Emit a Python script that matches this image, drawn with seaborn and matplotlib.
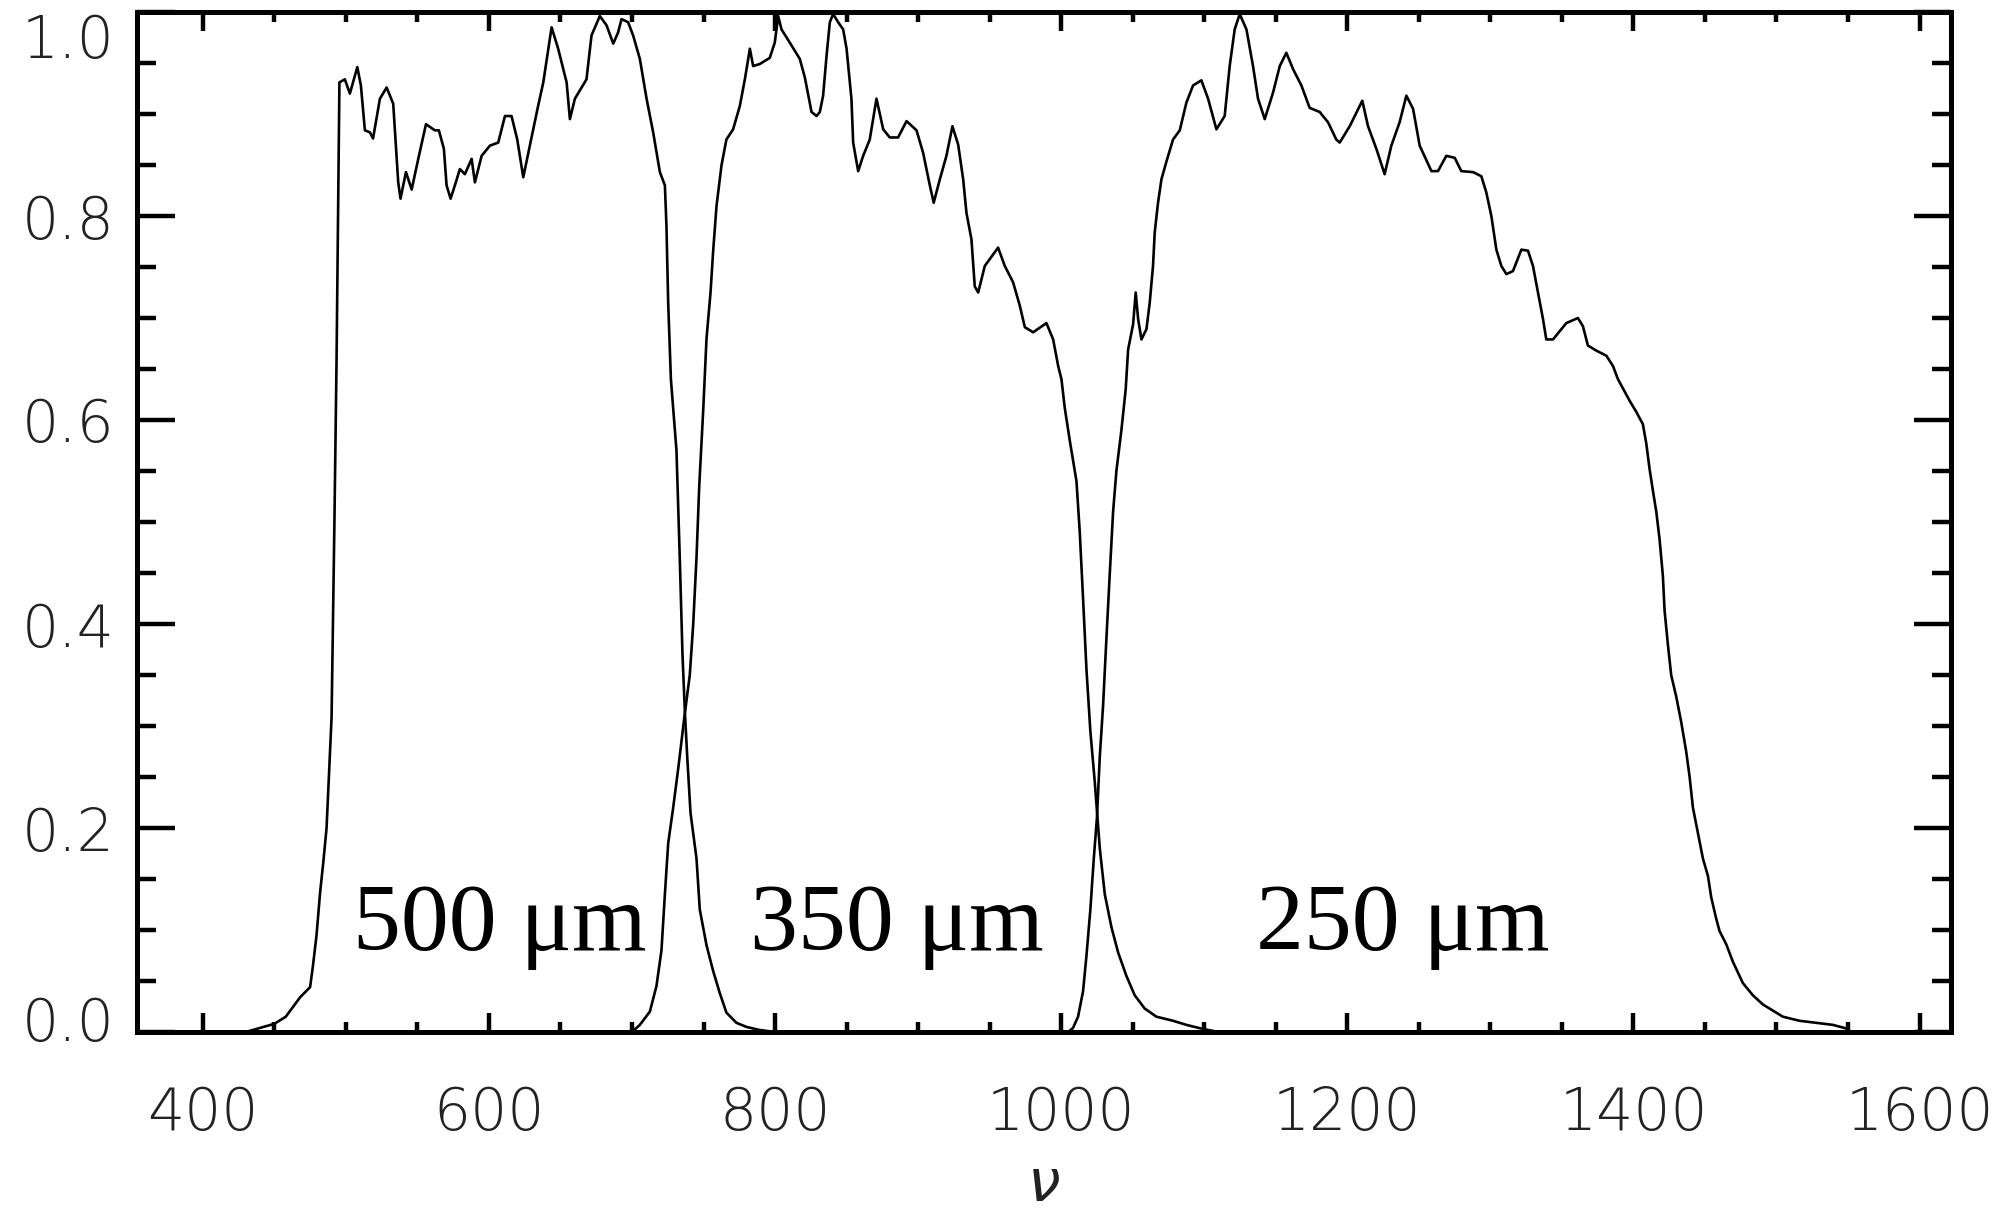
import numpy as np
import pandas as pd
import matplotlib
matplotlib.use("Agg")
import matplotlib.pyplot as plt
import matplotlib.transforms as mtransforms
import seaborn as sns
from matplotlib.ticker import MultipleLocator, FormatStrFormatter

# SPIRE filter transmission
nu_500 = [430, 440, 450, 458, 468, 475, 477, 479.5, 482, 484.2, 486.5, 490, 492, 493.5, 495.5,
          499.3, 502.8, 508, 510.5, 513.3, 516.8, 519, 523.8, 528.5, 533.1, 536.6, 538.2,
          542, 546, 550.6, 556, 562.2, 565, 568.5, 570.4, 573.2, 576.2, 579.7, 583.2,
          587.9, 590.2, 594.9, 600.7, 606.5, 611.2, 615.8, 619.8, 624, 628.6, 634.4, 638,
          643.8, 648.4, 654.3, 656.6, 660.1, 668.2, 671.7, 677.5, 682.2, 686.9, 690.3,
          692.7, 697.3, 700.8, 705.5, 710.2, 714.8, 719.5, 723, 724.1, 725.3, 727.2, 731.1,
          733.5, 735.3, 737, 738.6, 740.9, 745.1, 747.4, 752.1, 756.7, 761.4, 766, 773,
          780, 789, 800]
t_500 = [0.0, 0.004, 0.008, 0.015, 0.034, 0.044, 0.065, 0.095, 0.137, 0.166, 0.200, 0.308, 0.50,
         0.66, 0.931, 0.934, 0.920, 0.946, 0.928, 0.884, 0.882, 0.876, 0.915, 0.926, 0.910,
         0.833, 0.817, 0.843, 0.826, 0.856, 0.890, 0.884, 0.884, 0.866, 0.830, 0.817,
         0.830, 0.846, 0.841, 0.856, 0.833, 0.859, 0.869, 0.872, 0.898, 0.898, 0.875,
         0.838, 0.869, 0.908, 0.931, 0.985, 0.964, 0.931, 0.895, 0.915, 0.934, 0.977,
         0.996, 0.987, 0.969, 0.980, 0.993, 0.990, 0.977, 0.954, 0.915, 0.882, 0.843,
         0.830, 0.790, 0.715, 0.640, 0.570, 0.460, 0.370, 0.313, 0.270, 0.215, 0.170,
         0.120, 0.085, 0.060, 0.038, 0.019, 0.009, 0.005, 0.002, 0.0]

nu_350 = [700, 705.5, 712.5, 717.1, 720.6, 723, 725.3, 728.8, 732.3, 734.6, 737, 740.4, 742.8,
          745.1, 747, 749.8, 752.1, 754.9, 756.7, 759.1, 762.6, 766, 770.7, 775.4, 778.9,
          782.4, 784.7, 789.3, 796.3, 799.8, 802.2, 804.5, 810.3, 817.3, 820.8, 825.5, 829,
          831.3, 833.6, 836, 838.3, 840.6, 844.1, 847.6, 850, 853.4, 854.6, 858.1, 861.6,
          866.2, 870.9, 875.6, 880.2, 886, 891.9, 898.9, 903.5, 908.2, 910.9, 915.2, 919.8,
          924, 928, 931.5, 933.8, 937.3, 939.6, 942, 946.6, 955.9, 960.6, 966.4, 971.1,
          974.6, 980.4, 989.7, 994.4, 997.9, 1000.2, 1002.5, 1006, 1010.7, 1013, 1015.3,
          1017.7, 1020.4, 1023.5, 1027, 1030.5, 1035.1, 1039.8, 1045.6, 1051.4, 1058.4,
          1066.6, 1078.2, 1087.5, 1099, 1110]
t_350 = [0.0, 0.007, 0.02, 0.045, 0.08, 0.135, 0.185, 0.22, 0.258, 0.285, 0.313, 0.35, 0.40,
         0.465, 0.535, 0.61, 0.68, 0.725, 0.765, 0.81, 0.85, 0.875, 0.885, 0.908, 0.934,
         0.964, 0.947, 0.949, 0.955, 0.970, 0.996, 0.983, 0.970, 0.954, 0.936, 0.902, 0.898,
         0.902, 0.918, 0.957, 0.990, 0.998, 0.990, 0.983, 0.964, 0.915, 0.872, 0.844, 0.859,
         0.875, 0.915, 0.885, 0.877, 0.877, 0.893, 0.884, 0.862, 0.830, 0.813, 0.836, 0.859,
         0.888, 0.870, 0.836, 0.803, 0.777, 0.731, 0.725, 0.751, 0.769, 0.751, 0.735, 0.712,
         0.691, 0.686, 0.695, 0.679, 0.653, 0.640, 0.612, 0.58, 0.54, 0.49, 0.425,
         0.355, 0.295, 0.245, 0.18, 0.135, 0.103, 0.078, 0.055, 0.036, 0.023,
         0.015, 0.011, 0.007, 0.003, 0.0]

nu_250 = [1005, 1008.3, 1011.8, 1015.3, 1017.7, 1020.4, 1022.8, 1025, 1027, 1029.3, 1031.6, 1034,
          1036.3, 1038.6, 1042.1, 1045.1, 1046.8, 1050.3, 1052.1, 1053.8, 1056.1, 1059.6,
          1061.9, 1064.2, 1065.4, 1067.7, 1070.1, 1073.5, 1078.2, 1082.9, 1087.5, 1092.2,
          1098, 1102.7, 1108.5, 1114.3, 1117.8, 1121.3, 1124.8, 1129.5, 1134.1, 1137.6,
          1142.3, 1148.1, 1152.8, 1157.4, 1162.1, 1167.9, 1173.7, 1180.7, 1186.5, 1192.3,
          1194.7, 1201.7, 1210.5, 1214.5, 1220.3, 1226.1, 1230.8, 1236.6, 1241.3, 1246,
          1250.6, 1258.8, 1263.4, 1269.2, 1275.1, 1279.7, 1287.9, 1293.7, 1297.2, 1300.7,
          1304.2, 1307.7, 1311.2, 1315.8, 1321.7, 1326.3, 1329.8, 1333.3, 1336.8, 1339.1,
          1343.8, 1353.1, 1361.2, 1364.7, 1368.2, 1374.1, 1381.1, 1385.7, 1389.2, 1397.3,
          1402, 1406.6, 1409, 1411.3, 1413.6, 1416, 1418.3, 1420.6, 1421.8, 1424.1, 1426.4,
          1429.9, 1433.4, 1436.9, 1439.3, 1441.6, 1445.1, 1448.6, 1452.1, 1454.4, 1457.9,
          1460.2, 1464.9, 1469.5, 1476.5, 1483.5, 1490.5, 1497.5, 1504.5, 1516.1, 1527.8,
          1539.4, 1550]
t_250 = [0.0, 0.004, 0.015, 0.04, 0.075, 0.12, 0.17, 0.21, 0.27, 0.32, 0.385, 0.45, 0.51, 0.55,
         0.59, 0.63, 0.669, 0.694, 0.725, 0.699, 0.679, 0.689, 0.715, 0.751, 0.784, 0.813,
         0.836, 0.853, 0.875, 0.884, 0.911, 0.928, 0.933, 0.915, 0.885, 0.898, 0.947, 0.983,
         0.998, 0.983, 0.947, 0.915, 0.895, 0.921, 0.947, 0.960, 0.944, 0.928, 0.906, 0.902,
         0.892, 0.875, 0.872, 0.888, 0.913, 0.888, 0.866, 0.841, 0.869, 0.892, 0.918, 0.905,
         0.869, 0.844, 0.844, 0.859, 0.857, 0.844, 0.843, 0.839, 0.823, 0.800, 0.767, 0.751,
         0.743, 0.746, 0.767, 0.766, 0.751, 0.725, 0.699, 0.679, 0.679, 0.695, 0.700, 0.692,
         0.673, 0.668, 0.663, 0.653, 0.640, 0.619, 0.608, 0.596, 0.577, 0.552, 0.531, 0.510,
         0.483, 0.447, 0.413, 0.380, 0.350, 0.329, 0.304, 0.275, 0.250, 0.220, 0.195, 0.170,
         0.153, 0.132, 0.111, 0.099, 0.086, 0.069, 0.048, 0.036, 0.027, 0.021, 0.015, 0.011,
         0.009, 0.007, 0.003]

band_labels = ["500 \u03bcm", "350 \u03bcm", "250 \u03bcm"]
label_x = [505, 782.5, 1136.5]
label_y = 0.080

sns.set_theme(style="ticks")
plt.rcParams["font.family"] = ["DejaVu Sans"]

fig = plt.figure(figsize=(20.06, 12.17), dpi=100)
ax = fig.add_axes([137 / 2006, 1 - 1032 / 1217, (1951 - 137) / 2006, (1032 - 12) / 1217])

for nu, t in [(nu_500, t_500), (nu_350, t_350), (nu_250, t_250)]:
    sns.lineplot(x=nu, y=t, ax=ax, color="black", linewidth=1.9,
                 estimator=None, sort=False)

for txt, x in zip(band_labels, label_x):
    ax.text(x, label_y, txt, fontsize=69, family="Liberation Serif",
            ha="left", va="baseline", color="black")

ax.set_xlim(354, 1622)
ax.set_ylim(0, 1.0)
ax.xaxis.set_major_locator(MultipleLocator(200))
ax.xaxis.set_minor_locator(MultipleLocator(50))
ax.yaxis.set_major_locator(MultipleLocator(0.2))
ax.yaxis.set_minor_locator(MultipleLocator(0.05))
ax.xaxis.set_major_formatter(FormatStrFormatter("%d"))
ax.yaxis.set_major_formatter(FormatStrFormatter("%.1f"))

for s in ax.spines.values():
    s.set_linewidth(3.6)
    s.set_color("black")

ax.tick_params(axis="both", which="both", direction="in", top=True, right=True,
               color="black", width=3.2, labelcolor="#222222", labelsize=42)
ax.tick_params(axis="x", which="major", length=14, pad=38)
ax.tick_params(axis="x", which="minor", length=7)
ax.tick_params(axis="y", which="major", length=27, pad=16)
ax.tick_params(axis="y", which="minor", length=14)

ax.set_xlabel("\u03bd", fontsize=42, fontstyle="italic", labelpad=10, color="#222222")
ax.set_ylabel("")

fig.canvas.draw()
for lab in ax.get_xticklabels() + ax.get_yticklabels():
    lab.set_fontweight(200)

# nudge the end labels of the y axis inward like the original
yticks = ax.yaxis.get_major_ticks()
for tk in yticks:
    v = tk.get_loc()
    if abs(v - 1.0) < 1e-6:
        dy = -24 / 100
    elif abs(v) < 1e-6:
        dy = 14 / 100
    else:
        continue
    tk.label1.set_transform(tk.label1.get_transform() +
                            mtransforms.ScaledTranslation(0, dy, fig.dpi_scale_trans))

fig.savefig("out.png", dpi=100, facecolor="white")
